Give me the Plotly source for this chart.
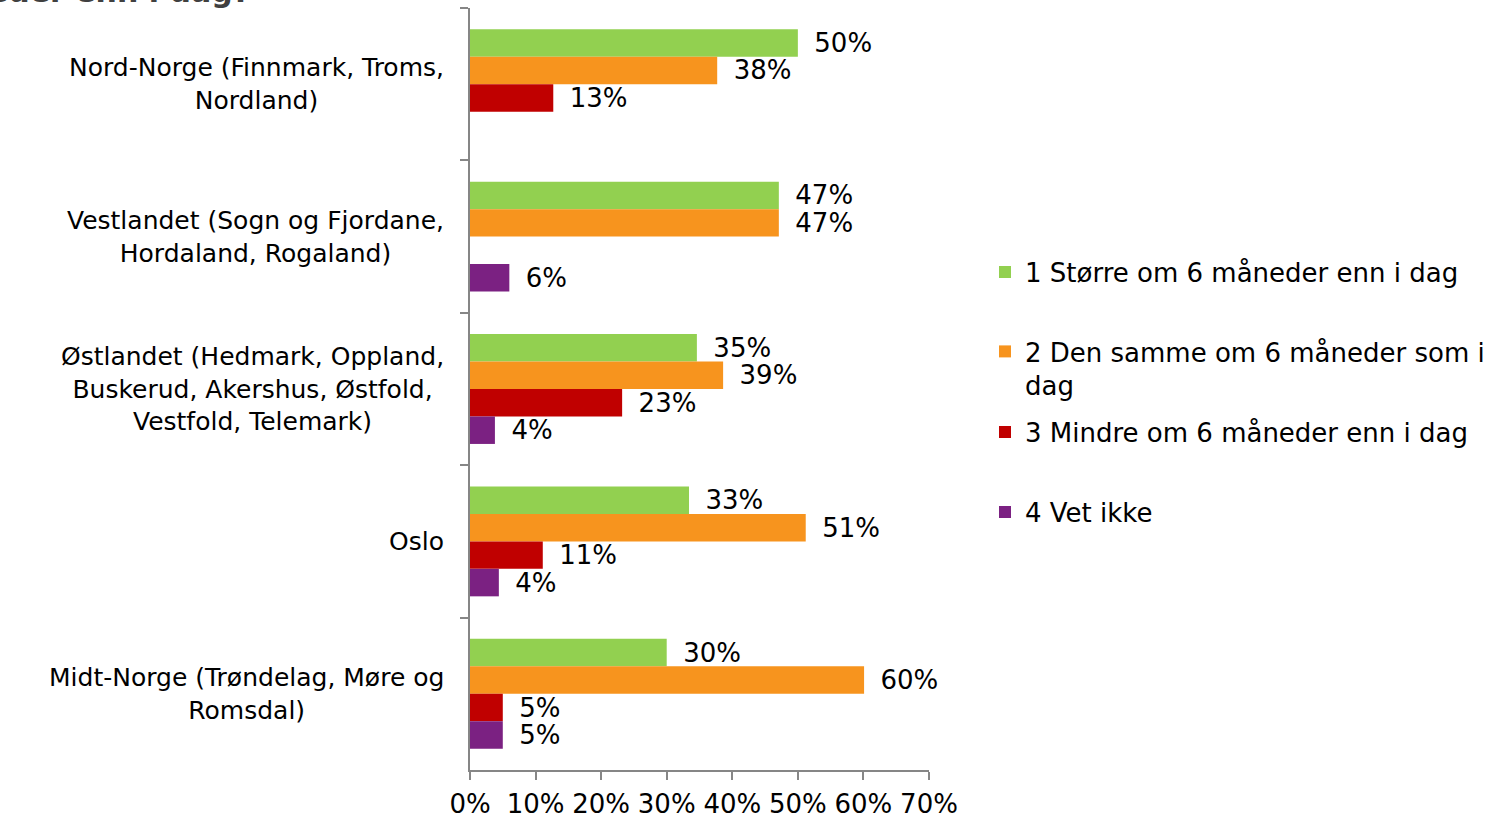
import plotly.graph_objects as go

categories = [
    "Nord-Norge (Finnmark, Troms,<br>Nordland)",
    "Vestlandet (Sogn og Fjordane,<br>Hordaland, Rogaland)",
    "Østlandet (Hedmark, Oppland,<br>Buskerud, Akershus, Østfold,<br>Vestfold, Telemark)",
    "Oslo",
    "Midt-Norge (Trøndelag, Møre og<br>Romsdal)",
]
series_names = [
    "1 Større om 6 måneder enn i dag",
    "2 Den samme om 6 måneder som i<br>dag",
    "3 Mindre om 6 måneder enn i dag",
    "4 Vet ikke",
]
storre = [0.500, 0.471, 0.346, 0.334, 0.300]
samme = [0.377, 0.471, 0.386, 0.512, 0.601]
mindre = [0.127, None, 0.232, 0.111, 0.050]
vet_ikke = [None, 0.060, 0.038, 0.044, 0.050]
x_ticks = [0, 0.1, 0.2, 0.3, 0.4, 0.5, 0.6, 0.7]
title_tail = "måneder enn i dag?"

colors = ["#92D050", "#F7941E", "#C00000", "#7B2182"]
values = [storre, samme, mindre, vet_ikke]
legend_ids = ["legend", "legend2", "legend3", "legend4"]
legend_y_px = [272, 368.5, 432, 512]

FONT = "DejaVu Sans"
FS = 26
FS_CAT = 25
W, H = 1509, 819
L, R, T, B = 470, 580, 8, 49
plot_h = H - T - B

fig = go.Figure()
for name, vals, col, lid in zip(series_names, values, colors, legend_ids):
    fig.add_trace(go.Bar(
        y=categories, x=vals, name=name, orientation="h",
        marker=dict(color=col, line=dict(width=0)),
        texttemplate="\u00a0\u2009%{x:.0%}", textposition="outside",
        textfont=dict(family=FONT, size=FS, color="#000000"),
        constraintext="none", cliponaxis=False,
        legend=lid,
    ))

for c in categories:
    fig.add_annotation(
        x=0, xref="paper", xanchor="right", xshift=-24,
        y=c, yref="y", yanchor="middle",
        text=c, showarrow=False, align="center",
        font=dict(family=FONT, size=FS_CAT, color="#000000"),
    )

fig.add_annotation(
    x=0, xref="paper", xanchor="right", xshift=-(L - 252),
    y=1, yref="paper", yanchor="bottom", yshift=-3,
    text="<b>" + title_tail + "</b>", showarrow=False,
    font=dict(family=FONT, size=30, color="#404040"),
)

legend_common = dict(
    font=dict(family=FONT, size=FS, color="#000000"),
    bgcolor="rgba(0,0,0,0)", borderwidth=0,
    xanchor="left", yanchor="middle", valign="top",
    x=(1005 - 20 - L) / (W - L - R),
)
layout_legends = {}
for lid, py in zip(legend_ids, legend_y_px):
    d = dict(legend_common)
    d["y"] = (H - B - py) / plot_h
    layout_legends[lid] = d

fig.update_layout(
    width=W, height=H,
    margin=dict(l=L, r=R, t=T, b=B, autoexpand=False),
    paper_bgcolor="white", plot_bgcolor="white",
    barmode="group", bargap=0.279, bargroupgap=0,
    font=dict(family=FONT, size=FS, color="#000000"),
    showlegend=True,
    **layout_legends,
    xaxis=dict(
        range=[0, 0.7], tickvals=x_ticks, tickformat=".0%",
        showgrid=False, zeroline=False, automargin=False,
        showline=True, linecolor="#868686", linewidth=1.5,
        ticks="outside", ticklen=8, tickcolor="#868686", tickwidth=1.5,
        ticklabelstandoff=2,
        tickfont=dict(family=FONT, size=FS, color="#000000"),
    ),
    yaxis=dict(
        autorange="reversed", showticklabels=False,
        showgrid=False, zeroline=False, automargin=False,
        showline=True, linecolor="#868686", linewidth=1.5,
        ticks="outside", ticklen=8, tickcolor="#868686", tickwidth=1.5,
        tickson="boundaries",
    ),
)

fig.write_html("out.html", config={"displayModeBar": False},
               post_script="document.body.style.margin='0px';")
